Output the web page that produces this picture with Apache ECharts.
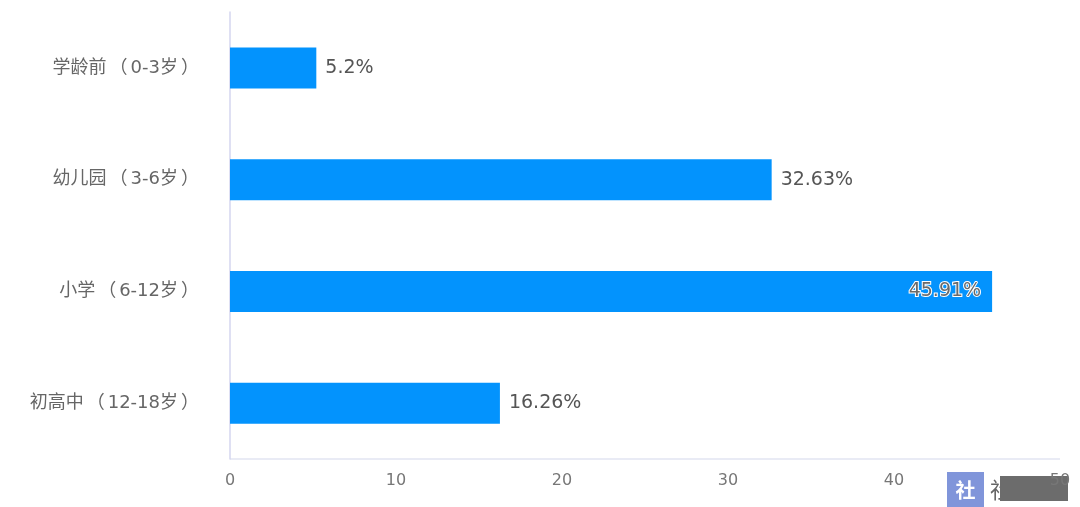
<!DOCTYPE html>
<html><head><meta charset="utf-8">
<script src="https://cdn.jsdelivr.net/npm/echarts@6/dist/echarts.min.js"></script>
<style>html,body{margin:0;padding:0;background:#fff}#c{width:1080px;height:507px}</style>
</head><body><div id="c"></div>
<script>
const categories = ['学龄前（0-3岁）', '幼儿园（3-6岁）', '小学（6-12岁）', '初高中（12-18岁）'];
const values = [5.2, 32.63, 45.91, 16.26];
const labels = ['5.2%', '32.63%', '45.91%', '16.26%'];
const insideIndex = 2;

const chart = echarts.init(document.getElementById('c'));
const font = '"DejaVu Sans", "Noto Sans CJK SC", sans-serif';
const catStyle = { color: '#666', fontSize: 18, fontFamily: font };
chart.setOption({
  animation: false,
  grid: { left: 230, right: 20, top: 12, bottom: 48 },
  xAxis: {
    type: 'value', min: 0, max: 50, interval: 10,
    axisLine: { show: false }, axisTick: { show: false },
    splitLine: { show: false },
    axisLabel: { color: '#777', fontSize: 16, fontFamily: font, margin: 14 }
  },
  yAxis: {
    type: 'category', inverse: true, data: categories,
    axisLine: { show: true, lineStyle: { color: '#d4d6ef', width: 1.5 } },
    axisTick: { show: false },
    axisLabel: {
      margin: 28,
      formatter: function (s) {
        return '{t|' + s.replace(/（/g, '}{p|（}{t|').replace(/）/g, '}{p|）}{t|') + '}';
      },
      rich: {
        t: Object.assign({}, catStyle),
        p: Object.assign({}, catStyle, { width: 24, align: 'center' })
      }
    }
  },
  series: [{
    type: 'bar',
    barWidth: 41,
    itemStyle: { color: '#0393fd' },
    data: values.map((v, i) => ({
      value: v,
      label: i === insideIndex
        ? { show: true, position: 'insideRight', offset: [-6, 0], formatter: labels[i], color: '#6a6a6a', textBorderColor: '#fff', textBorderWidth: 2, fontSize: 19, fontFamily: font }
        : { show: true, position: 'right', distance: 9, formatter: labels[i], color: '#555', fontSize: 19, fontFamily: font }
    }))
  }],
  graphic: [
    { type: 'line', shape: { x1: 230, y1: 459, x2: 1060, y2: 459 }, style: { stroke: '#e2e4f2', lineWidth: 1.5 } },
    { type: 'rect', shape: { x: 947, y: 472, width: 37, height: 35 }, style: { fill: '#8095da' } },
    { type: 'text', style: { x: 965.5, y: 490, text: '社', fill: '#fff', font: 'bold 20px "Noto Sans CJK SC"', align: 'center', verticalAlign: 'middle' } },
    { type: 'text', style: { x: 990, y: 490, text: '社', fill: '#666', font: '22px "Noto Sans CJK SC"', align: 'left', verticalAlign: 'middle' } },
    { type: 'rect', shape: { x: 1000, y: 476, width: 68, height: 25 }, style: { fill: '#6c6c6c' } }
  ]
});
</script>
</body></html>
